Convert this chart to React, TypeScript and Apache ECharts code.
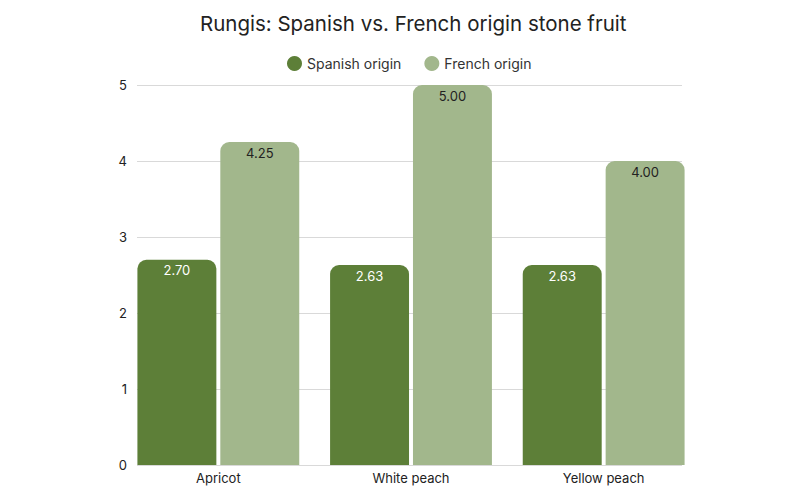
import { useEffect, useRef } from 'react'
import * as echarts from 'echarts'

const categories = ['Apricot', 'White peach', 'Yellow peach']
const spanish = [2.7, 2.63, 2.63]
const french = [4.25, 5.0, 4.0]
const seriesNames = ['Spanish origin', 'French origin']
const yTicks = { min: 0, max: 5, interval: 1 }

const FONT = 'Inter, "Noto Sans", sans-serif'

export default function App() {
  const elRef = useRef<HTMLDivElement>(null)

  useEffect(() => {
    if (!elRef.current) return
    document.body.style.margin = '0'
    const chart = echarts.init(elRef.current, null, { renderer: 'svg' })
    const label = (color: string) => ({
      show: true,
      position: 'insideTop' as const,
      distance: 4,
      color,
      fontFamily: FONT,
      fontSize: 13,
      formatter: (p: any) => Number(p.value).toFixed(2),
    })
    // grid 0 carries the gridlines and y labels, grid 1 the bars (slightly wider so groups touch the edges)
    chart.setOption({
      animation: false,
      backgroundColor: '#ffffff',
      textStyle: { fontFamily: FONT },
      title: {
        text: 'Rungis: Spanish vs. French origin stone fruit',
        left: 195,
        top: 8,
        textStyle: { fontFamily: FONT, fontSize: 20.5, fontWeight: 'normal', color: '#222' },
      },
      legend: {
        data: seriesNames,
        top: 51,
        left: 282,
        icon: 'circle',
        itemWidth: 15,
        itemHeight: 15,
        itemGap: 23,
        textStyle: { fontFamily: FONT, fontSize: 14, color: '#333' },
      },
      grid: [
        { left: 137, right: 118, top: 85, bottom: 35 },
        { left: 122, right: 100, top: 85, bottom: 35 },
      ],
      xAxis: [
        { type: 'category', gridIndex: 0, data: categories, show: false },
        {
          type: 'category',
          gridIndex: 1,
          data: categories,
          axisLine: { show: false },
          axisTick: { show: false },
          axisLabel: { fontFamily: FONT, fontSize: 13, color: '#222', margin: 6 },
        },
      ],
      yAxis: [
        {
          type: 'value',
          gridIndex: 0,
          ...yTicks,
          axisLabel: { fontFamily: FONT, fontSize: 13, color: '#222', margin: 10 },
          splitLine: { lineStyle: { color: '#d9d9d9' } },
        },
        { type: 'value', gridIndex: 1, ...yTicks, show: false, splitLine: { show: false } },
      ],
      series: [
        {
          name: seriesNames[0],
          type: 'bar',
          xAxisIndex: 1,
          yAxisIndex: 1,
          data: spanish,
          barGap: '5%',
          barCategoryGap: '16%',
          itemStyle: { color: '#5d7f38', borderRadius: [9, 9, 0, 0] },
          label: label('#ffffff'),
        },
        {
          name: seriesNames[1],
          type: 'bar',
          xAxisIndex: 1,
          yAxisIndex: 1,
          data: french,
          itemStyle: { color: '#a2b78c', borderRadius: [9, 9, 0, 0] },
          label: label('#222222'),
        },
      ],
    })
    return () => chart.dispose()
  }, [])

  return <div ref={elRef} style={{ width: 800, height: 500 }} />
}
